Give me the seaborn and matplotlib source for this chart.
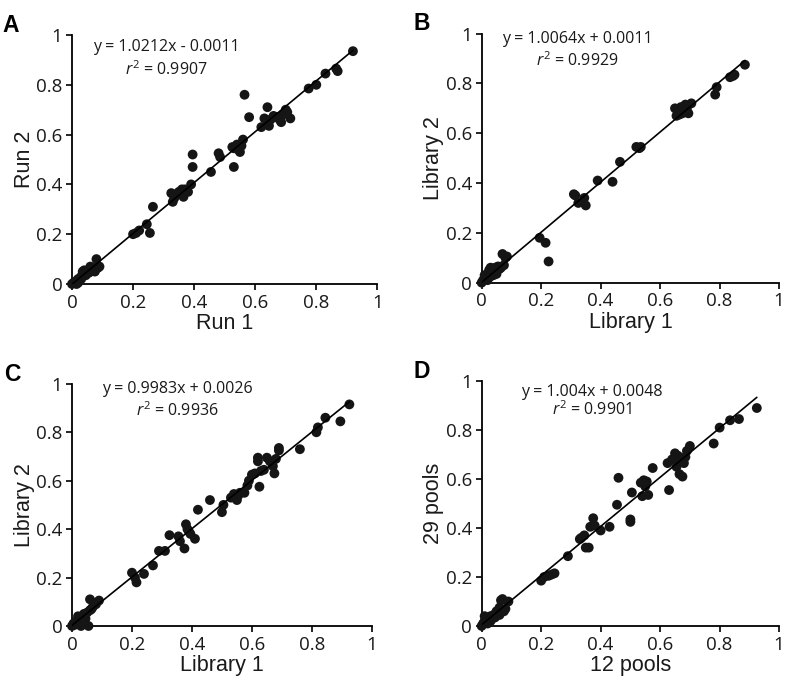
import matplotlib
matplotlib.use("Agg")
import matplotlib.pyplot as plt
import seaborn as sns
import pandas as pd
import numpy as np
from matplotlib.ticker import FuncFormatter

# ---------------- data ----------------
a_x = [0, 0.005, 0.01, 0.015, 0.02, 0.025, 0.03, 0.035, 0.04, 0.045, 0.05, 0.055, 0.06, 0.065, 0.07, 0.075,
       0.08, 0.085, 0.09, 0.04, 0.02, 0.03, 0.06, 0.07,
       0.2, 0.21, 0.22, 0.245, 0.255, 0.265,
       0.325, 0.33, 0.335, 0.34, 0.35, 0.36, 0.365, 0.37, 0.38, 0.39, 0.395, 0.395,
       0.455, 0.48, 0.485, 0.53, 0.525, 0.53, 0.54, 0.545, 0.55, 0.555, 0.56, 0.565, 0.58,
       0.62, 0.63, 0.64, 0.645, 0.65, 0.66, 0.67, 0.68, 0.685, 0.69, 0.7, 0.705, 0.715,
       0.775, 0.8, 0.83, 0.865, 0.87, 0.92]
a_y = [0, 0.005, 0.01, 0.0, 0.02, 0.015, 0.03, 0.05, 0.04, 0.035, 0.05, 0.045, 0.07, 0.055, 0.06, 0.05,
       0.1, 0.065, 0.07, 0.055, 0.005, 0.02, 0.05, 0.065,
       0.2, 0.205, 0.215, 0.24, 0.205, 0.31,
       0.365, 0.33, 0.345, 0.36, 0.37, 0.38, 0.35, 0.38, 0.37, 0.4, 0.52, 0.47,
       0.45, 0.525, 0.51, 0.47, 0.55, 0.545, 0.56, 0.54, 0.53, 0.555, 0.58, 0.76, 0.67,
       0.63, 0.665, 0.71, 0.635, 0.66, 0.675, 0.67, 0.66, 0.65, 0.68, 0.7, 0.69, 0.665,
       0.785, 0.8, 0.845, 0.865, 0.855, 0.935]

b_x = [0, 0.005, 0.01, 0.015, 0.02, 0.025, 0.03, 0.035, 0.04, 0.045, 0.05, 0.055, 0.06, 0.065, 0.07, 0.075,
       0.08, 0.085, 0.03, 0.02, 0.04, 0.05,
       0.195, 0.215, 0.225,
       0.31, 0.315, 0.325, 0.345, 0.35, 0.39, 0.44, 0.465, 0.52, 0.53, 0.535,
       0.65, 0.655, 0.66, 0.665, 0.67, 0.675, 0.68, 0.685, 0.69, 0.695, 0.705, 0.665, 0.675,
       0.785, 0.79, 0.835, 0.845, 0.85, 0.885]
b_y = [0, 0.01, 0.03, 0.02, 0.035, 0.05, 0.06, 0.04, 0.03, 0.06, 0.05, 0.065, 0.055, 0.06, 0.115, 0.07,
       0.1, 0.105, 0.025, 0.01, 0.045, 0.035,
       0.18, 0.16, 0.085,
       0.355, 0.35, 0.32, 0.34, 0.31, 0.41, 0.405, 0.485, 0.545, 0.54, 0.545,
       0.7, 0.67, 0.685, 0.695, 0.705, 0.7, 0.69, 0.715, 0.7, 0.68, 0.72, 0.675, 0.68,
       0.755, 0.785, 0.825, 0.83, 0.835, 0.875]

c_x = [0, 0.005, 0.01, 0.015, 0.02, 0.025, 0.03, 0.03, 0.035, 0.04, 0.045, 0.05, 0.055, 0.06, 0.065, 0.07,
       0.075, 0.08, 0.09, 0.02, 0.04, 0.06,
       0.2, 0.21, 0.215, 0.24, 0.27, 0.29, 0.31, 0.325, 0.355, 0.36, 0.375, 0.38, 0.385, 0.39, 0.395, 0.41,
       0.42, 0.46, 0.5, 0.505,
       0.53, 0.54, 0.55, 0.555, 0.56, 0.575, 0.585, 0.59, 0.6, 0.61, 0.62, 0.62, 0.625, 0.63, 0.64, 0.65,
       0.66, 0.67, 0.675, 0.68, 0.69, 0.69,
       0.76, 0.815, 0.82, 0.845, 0.895, 0.925]
c_y = [0, 0.01, 0.005, 0.02, 0.015, 0.03, 0.0, 0.035, 0.04, 0.05, 0.03, 0.055, 0.0, 0.11, 0.07, 0.08,
       0.095, 0.09, 0.105, 0.04, 0.02, 0.065,
       0.22, 0.2, 0.18, 0.215, 0.25, 0.31, 0.31, 0.375, 0.37, 0.35, 0.32, 0.42, 0.4, 0.39, 0.38, 0.36,
       0.48, 0.52, 0.47, 0.5,
       0.53, 0.545, 0.52, 0.54, 0.55, 0.55, 0.58, 0.6, 0.625, 0.63, 0.68, 0.695, 0.575, 0.64, 0.645, 0.695,
       0.68, 0.66, 0.63, 0.69, 0.725, 0.735,
       0.73, 0.8, 0.82, 0.86, 0.845, 0.915]

d_x = [0, 0.005, 0.01, 0.01, 0.015, 0.02, 0.025, 0.03, 0.035, 0.04, 0.045, 0.05, 0.055, 0.06, 0.065, 0.07,
       0.075, 0.08, 0.09, 0.02, 0.03, 0.06,
       0.2, 0.21, 0.225, 0.235, 0.245, 0.29, 0.33, 0.335, 0.345, 0.35, 0.36, 0.365, 0.375, 0.38, 0.4, 0.43,
       0.455, 0.46, 0.5, 0.5, 0.505,
       0.535, 0.54, 0.545, 0.55, 0.555, 0.56, 0.575, 0.625, 0.63, 0.64, 0.65, 0.655, 0.66, 0.665, 0.67,
       0.675, 0.68, 0.685, 0.69, 0.7, 0.66,
       0.78, 0.8, 0.835, 0.865, 0.925]
d_y = [0, 0.01, 0.02, 0.04, 0.03, 0.025, 0.035, 0.04, 0.03, 0.045, 0.035, 0.06, 0.05, 0.075, 0.105, 0.11,
       0.06, 0.07, 0.1, 0.01, 0.02, 0.045,
       0.185, 0.2, 0.205, 0.21, 0.215, 0.285, 0.355, 0.36, 0.37, 0.32, 0.32, 0.405, 0.44, 0.41, 0.39, 0.405,
       0.495, 0.605, 0.435, 0.425, 0.545,
       0.585, 0.53, 0.595, 0.57, 0.59, 0.535, 0.645, 0.665, 0.555, 0.68, 0.705, 0.65, 0.695, 0.62, 0.68,
       0.61, 0.665, 0.69, 0.715, 0.735, 0.665,
       0.745, 0.81, 0.84, 0.845, 0.89]

panel_letters = ["A", "B", "C", "D"]
x_labels = ["Run 1", "Library 1", "Library 1", "12 pools"]
y_labels = ["Run 2", "Library 2", "Library 2", "29 pools"]
slopes = [1.0212, 1.0064, 0.9983, 1.004]
intercepts = [-0.0011, 0.0011, 0.0026, 0.0048]
eq_texts = ["y = 1.0212x - 0.0011", "y = 1.0064x + 0.0011", "y = 0.9983x + 0.0026", "y = 1.004x + 0.0048"]
r2_texts = ["$r^2$ = 0.9907", "$r^2$ = 0.9929", "$r^2$ = 0.9936", "$r^2$ = 0.9901"]
ticks = [0, 0.2, 0.4, 0.6, 0.8, 1]

xs = [a_x, b_x, c_x, d_x]
ys = [a_y, b_y, c_y, d_y]

# --------------- layout ---------------
sns.set_theme(style="ticks")
plt.rcParams["font.family"] = ["Liberation Sans", "DejaVu Sans"]
plt.rcParams["mathtext.fontset"] = "custom"
plt.rcParams["mathtext.it"] = "Open Sans:italic"
plt.rcParams["mathtext.rm"] = "Open Sans"

fig = plt.figure(figsize=(7.87, 6.86), dpi=100)
positions = [
    [0.0915, 0.586, 0.388, 0.363],
    [0.612, 0.588, 0.378, 0.363],
    [0.0915, 0.0875, 0.381, 0.353],
    [0.612, 0.0875, 0.378, 0.357],
]
eq_pos = [(0.31, 0.95, 0.86), (0.32, 0.98, 0.89), (0.35, 0.98, 0.89), (0.37, 0.955, 0.885)]

for i in range(4):
    ax = fig.add_axes(positions[i])
    df = pd.DataFrame({"x": xs[i], "y": ys[i]})
    sns.scatterplot(data=df, x="x", y="y", ax=ax, color="#151515", s=50,
                    edgecolor="none", linewidth=0, clip_on=False, zorder=3)
    xmax = max(xs[i])
    line_df = pd.DataFrame({"x": [0.0, xmax]})
    line_df["y"] = slopes[i] * line_df["x"] + intercepts[i]
    sns.lineplot(data=line_df, x="x", y="y", ax=ax, color="black", linewidth=1.2, zorder=4)
    ax.set_xlim(0, 1)
    ax.set_ylim(0, 1)
    ax.set_xticks(ticks)
    ax.set_yticks(ticks)
    fmt = FuncFormatter(lambda v, p: f"{v:g}")
    ax.xaxis.set_major_formatter(fmt)
    ax.yaxis.set_major_formatter(fmt)
    for lab in ax.get_xticklabels() + ax.get_yticklabels():
        lab.set_fontfamily("Open Sans")
        lab.set_fontsize(13.5)
        lab.set_color("#1a1a1a")
    ax.tick_params(direction="out", length=4, width=1.2, color="black", pad=3)
    sns.despine(ax=ax)
    for sp in ["left", "bottom"]:
        ax.spines[sp].set_linewidth(1.3)
        ax.spines[sp].set_color("black")
    ax.set_xlabel(x_labels[i], fontsize=15.5, color="#1a1a1a", labelpad=1)
    ax.set_ylabel(y_labels[i], fontsize=15.5, color="#1a1a1a", labelpad=1)
    ex, ey, ry = eq_pos[i]
    ax.text(ex, ey, eq_texts[i], ha="center", va="center", fontsize=11.5,
            family="Open Sans", color="#1a1a1a")
    ax.text(ex, ry, r2_texts[i], ha="center", va="center", fontsize=11.5,
            family="Open Sans", color="#1a1a1a")
    ax.text(-0.2, 1.04, panel_letters[i], transform=ax.transAxes, fontsize=16.5,
            fontweight="bold", ha="center", va="center", color="black")

fig.savefig("out.png", dpi=100)
